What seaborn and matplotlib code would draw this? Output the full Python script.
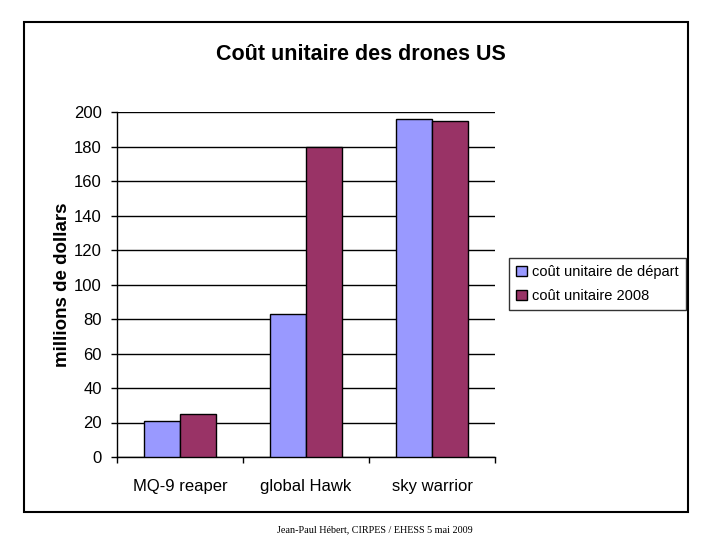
import matplotlib
matplotlib.use("Agg")
import matplotlib.pyplot as plt
import matplotlib.patches as mpatches
import seaborn as sns
import pandas as pd

categories = ["MQ-9 reaper", "global Hawk", "sky warrior"]
series_names = ["coût unitaire de départ", "coût unitaire 2008"]
cout_depart = [21, 83, 196]
cout_2008 = [25, 180, 195]
yticks = [0, 20, 40, 60, 80, 100, 120, 140, 160, 180, 200]

df = pd.DataFrame({
    "drone": categories * 2,
    "serie": [series_names[0]] * 3 + [series_names[1]] * 3,
    "valeur": cout_depart + cout_2008,
})

sns.set_style("white")
plt.rcParams["font.family"] = ["Liberation Sans", "DejaVu Sans"]
plt.rcParams["text.color"] = "black"
plt.rcParams["axes.labelcolor"] = "black"
plt.rcParams["xtick.color"] = "black"
plt.rcParams["ytick.color"] = "black"

fig = plt.figure(figsize=(7.2, 5.4), dpi=100)
ax = fig.add_axes([117 / 720, 1 - 457 / 540, 378 / 720, 345 / 540])

palette = {series_names[0]: "#9999FF", series_names[1]: "#993366"}
sns.barplot(data=df, x="drone", y="valeur", hue="serie", order=categories,
            hue_order=series_names, palette=palette, width=0.575,
            edgecolor="black", linewidth=1.0, saturation=1, ax=ax, legend=False, zorder=3)

ax.set_ylim(0, 200)
ax.set_xlim(-0.5, 2.5)
ax.set_yticks(yticks)
ax.set_yticklabels([str(v) for v in yticks], fontsize=12)
ax.yaxis.grid(True, color="black", linewidth=1.0, zorder=0)
ax.set_axisbelow(True)
ax.set_xticks([-0.5, 0.5, 1.5, 2.5], minor=False)
ax.set_xticklabels([])
ax.set_xticks([0, 1, 2], minor=True)
ax.set_xticklabels(categories, minor=True, fontsize=12)
ax.tick_params(axis="x", which="major", length=4, width=1, direction="out", color="black")
ax.tick_params(axis="x", which="minor", length=0, pad=16)
ax.tick_params(axis="y", length=4, width=1, direction="out", color="black", pad=7)
ax.tick_params(axis="y", left=True)
ax.tick_params(axis="x", bottom=True)
for s in ["top", "right"]:
    ax.spines[s].set_visible(False)
for s in ["left", "bottom"]:
    ax.spines[s].set_color("black")
    ax.spines[s].set_linewidth(1.0)
ax.set_xlabel("")
ax.set_ylabel("millions de dollars", fontsize=13.5, fontweight="bold", labelpad=2)

fig.text(361 / 720, 1 - 55 / 540, "Coût unitaire des drones US", ha="center", va="center",
         fontsize=15.5, fontweight="bold")

handles = [mpatches.Patch(facecolor=palette[n], edgecolor="black", label=n) for n in series_names]
leg = fig.legend(handles=handles, loc="center left", bbox_to_anchor=(509 / 720, 1 - 284 / 540),
                 fontsize=10.5, frameon=True, fancybox=False, edgecolor="black",
                 handlelength=0.7, handleheight=0.7, handletextpad=0.4, borderpad=0.5,
                 labelspacing=0.65, borderaxespad=0)
leg.get_frame().set_linewidth(1.0)

border = mpatches.Rectangle((24 / 720, 1 - 512 / 540), 664 / 720, 490 / 540,
                            transform=fig.transFigure, fill=False, edgecolor="black",
                            linewidth=1.5)
fig.add_artist(border)

fig.text(375 / 720, 1 - 530 / 540, "Jean-Paul Hébert, CIRPES / EHESS 5 mai 2009",
         ha="center", va="center", fontsize=7.3, family=["Liberation Serif", "DejaVu Serif"])

fig.savefig("out.png", dpi=100)
